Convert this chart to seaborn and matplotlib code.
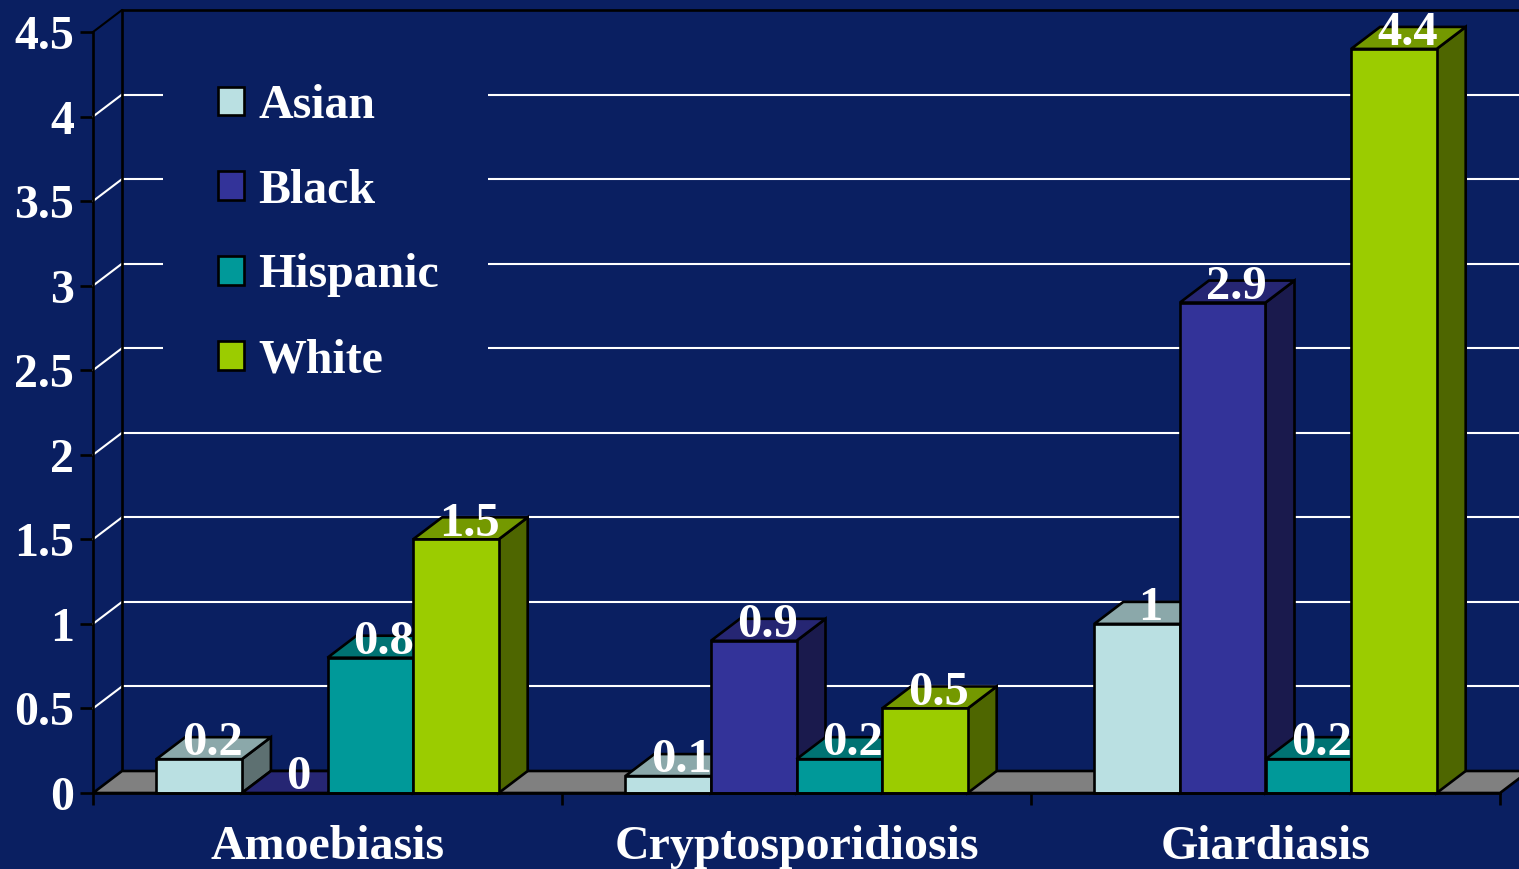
import numpy as np
import pandas as pd
import matplotlib
matplotlib.use("Agg")
import matplotlib.pyplot as plt
import seaborn as sns
from matplotlib.colors import to_rgb
from matplotlib.patches import Polygon, Rectangle

# values
diseases = ["Amoebiasis", "Cryptosporidiosis", "Giardiasis"]
groups = ["Asian", "Black", "Hispanic", "White"]
asian = [0.2, 0.1, 1]
black = [0, 0.9, 2.9]
hispanic = [0.8, 0.2, 0.2]
white = [1.5, 0.5, 4.4]
y_ticks = [0, 0.5, 1, 1.5, 2, 2.5, 3, 3.5, 4, 4.5]

colors = ["#BAE0E2", "#333399", "#009999", "#9BCC00"]
bg = "#0A1F61"
floor_color = "#808080"
font = "Liberation Serif"
fs = 34.5

df = pd.DataFrame({"disease": diseases * 4,
                   "group": np.repeat(groups, 3),
                   "value": asian + black + hispanic + white})

sns.set_theme(style="white")
plt.rcParams["font.family"] = [font, "DejaVu Sans"]
plt.rcParams["font.weight"] = "bold"

W, H = 1519, 869
fig = plt.figure(figsize=(W / 100, H / 100), dpi=100, facecolor=bg)
ax = fig.add_axes([93 / W, 1 - 793 / H, (1500 - 93) / W, (793 - 32) / H], facecolor=bg)

sns.barplot(data=df, x="disease", y="value", hue="group", order=diseases, hue_order=groups,
            palette=colors, width=0.73, gap=0, saturation=1, errorbar=None,
            edgecolor="black", linewidth=1.9, ax=ax)
ax.set_xlim(-0.5, 2.5)
ax.set_ylim(0, 4.5)

# depth of the fake 3D, in data units (29px right, 22px up)
dx = 29 / 469
dy = 22 / 169.1

lw_black = 1.9
lw_grid = 1.5

# back wall lines
for t in y_ticks[1:]:
    c = "black" if t == 4.5 else "white"
    ax.plot([-0.5, -0.5 + dx], [t, t + dy], color=c, lw=lw_grid, clip_on=False, zorder=1)
    ax.plot([-0.5 + dx, 2.6 + dx], [t + dy, t + dy], color=c, lw=lw_grid if t < 4.5 else lw_black,
            clip_on=False, zorder=1)
ax.plot([-0.5 + dx, -0.5 + dx], [dy, 4.5 + dy], color="black", lw=lw_black, clip_on=False, zorder=1.2)

# floor
ax.add_patch(Polygon([(-0.5, 0), (2.5, 0), (2.5 + dx, dy), (-0.5 + dx, dy)], closed=True,
                     facecolor=floor_color, edgecolor="black", lw=lw_black, clip_on=False, zorder=1.5))

# extrude the seaborn bars, left to right
order = 10
bars = []
for h, cont in enumerate(ax.containers):
    for c, p in enumerate(cont.patches):
        bars.append((c, h, p))
bars.sort(key=lambda b: (b[0], b[1]))

for c, h, p in bars:
    x0 = p.get_x()
    x1 = x0 + p.get_width()
    top = p.get_height()
    rgb = np.array(to_rgb(colors[h]))
    ax.add_patch(Polygon([(x1, 0), (x1 + dx, dy), (x1 + dx, top + dy), (x1, top)], closed=True,
                         facecolor=rgb * 0.5, edgecolor="black", lw=lw_black, clip_on=False, zorder=order))
    ax.add_patch(Polygon([(x0, top), (x1, top), (x1 + dx, top + dy), (x0 + dx, top + dy)], closed=True,
                         facecolor=rgb * 0.75, edgecolor="black", lw=lw_black, clip_on=False, zorder=order + 1))
    p.set_zorder(order + 2)
    p.set_clip_on(False)
    order += 3

# value labels sit on the top face
for c, h, p in bars:
    top = p.get_height()
    ax.text(p.get_x() + p.get_width() / 2 + dx * 0.47, top + 0.022, f"{top:g}", color="white",
            fontsize=fs + 0.5, fontweight="bold", family=font, ha="center", va="baseline",
            clip_on=False, zorder=100)

# axes
for s in ["top", "right"]:
    ax.spines[s].set_visible(False)
for s in ["left", "bottom"]:
    ax.spines[s].set_color("black")
    ax.spines[s].set_linewidth(lw_black)
    ax.spines[s].set_zorder(90)

ax.set_xlabel("")
ax.set_ylabel("")
ax.set_yticks(y_ticks)
ax.set_yticklabels([f"{t:g}" for t in y_ticks], color="white", fontsize=fs, fontweight="bold")
ax.set_xticks(range(3))
ax.set_xticklabels(diseases, color="white", fontsize=fs, fontweight="bold")
ax.set_xticks([-0.5, 0.5, 1.5, 2.5], minor=True)
ax.tick_params(axis="x", which="major", length=0, pad=23)
ax.tick_params(axis="x", which="minor", length=8.5, width=lw_black, color="black", bottom=True)
ax.tick_params(axis="y", length=9.5, width=lw_black, color="black", left=True, pad=4)

# navy block behind the legend hides the grid lines
ax.add_patch(Rectangle(((163 - 93) / 1407, (793 - 395) / 761), (488 - 163) / 1407, (395 - 62) / 761,
                       transform=ax.transAxes, facecolor=bg, edgecolor="none", clip_on=False, zorder=5))

handles, labels = ax.get_legend_handles_labels()
leg = ax.legend(handles, labels, loc="upper left", bbox_to_anchor=((218 - 93) / 1407, 1 - (84 - 32) / 761),
                frameon=False, labelcolor="white", handlelength=0.54, handleheight=0.54,
                handletextpad=0.3, labelspacing=0.85, borderpad=0, borderaxespad=0,
                prop={"family": font, "weight": "bold", "size": fs})
leg.set_zorder(60)

fig.savefig("out.png", dpi=100, facecolor=bg)
